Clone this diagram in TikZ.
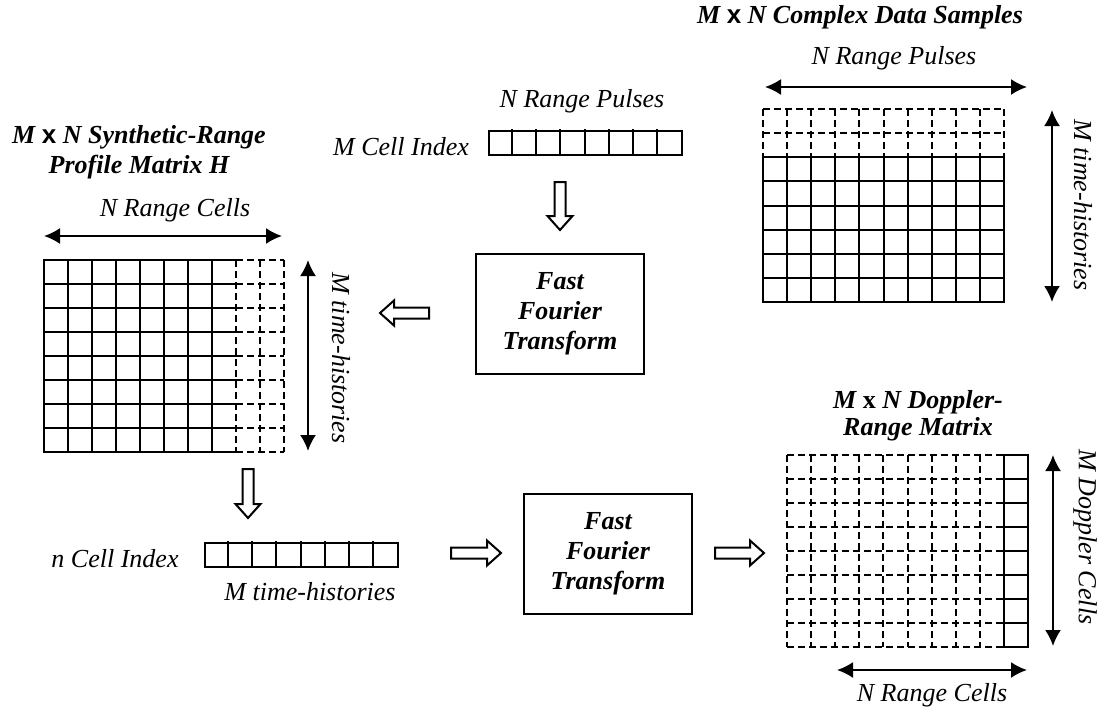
\documentclass[tikz,border=0pt]{standalone}
\usepackage{fontspec}
\setmainfont{Liberation Serif}
\newfontfamily\sansx{Liberation Sans}
\usetikzlibrary{arrows.meta,calc}
\begin{document}
\begin{tikzpicture}[x=1pt,y=-1pt,
  lbl/.style={font=\fontsize{26}{30}\selectfont\itshape, inner sep=0pt},
  ttl/.style={font=\fontsize{26}{30}\selectfont\bfseries\itshape, align=center, inner sep=0pt},
  fft/.style={draw, line width=2pt, minimum width=168pt, minimum height=120pt, align=center, inner sep=0pt,
    font=\fontsize{26}{30}\selectfont\bfseries\itshape},
  gs/.style={line width=2pt, line cap=rect},
  gd/.style={line width=2pt, dash pattern=on 7pt off 4pt},
  strip/.style={draw, line width=2pt, minimum width=193pt, minimum height=24pt, inner sep=0pt, anchor=north west},
  dbl/.style={line width=2pt, {Latex[length=16pt,width=16pt]}-{Latex[length=16pt,width=16pt]}},
  hollow/.style={draw, line width=2pt, line join=miter, fill=white}
]
\useasboundingbox (0,0) rectangle (1106,715);

% ---------- titles and labels ----------
\node[ttl] (tCDS) at (860,17) {M {\sansx\upshape x} N Complex Data Samples};
\node[lbl] (tNRP1) at (894,58) {N Range Pulses};
\node[lbl, rotate=-90] (tMTH1) at (1083,205) {M time-histories};
\node[lbl] (tNRP2) at (582,101) {N Range Pulses};
\node[lbl, anchor=base] (tMCI) at (401,155) {M Cell Index};
\node[ttl] (tSRP) at (139,152) {M {\sansx\upshape x} N Synthetic-Range\\Profile Matrix H};
\node[lbl] (tNRC1) at (175,210) {N Range Cells};
\node[lbl, rotate=-90] (tMTH2) at (341,358) {M time-histories};
\node[lbl, anchor=base] (tnCI) at (115,567) {n Cell Index};
\node[lbl, anchor=base] (tMTH3) at (310,600) {M time-histories};
\node[ttl, font=\fontsize{26}{27}\selectfont\bfseries\itshape] (tDRM) at (918,416) {M {\upshape x} N Doppler-\\Range Matrix};
\node[lbl, rotate=-90] (tMDC) at (1085,537) {M Doppler Cells};
\node[lbl] (tNRC2) at (932,695) {N Range Cells};

% ---------- FFT boxes ----------
\node[fft] (fft1) at (560,314) {Fast\\Fourier\\Transform};
\node[fft] (fft2) at (608,554) {Fast\\Fourier\\Transform};

% ---------- strips ----------
\node[strip] (topstrip) at (488,130) {};
\foreach \i in {1,...,7} \draw[gs] ({round(488+24.125*\i)},130) -- ({round(488+24.125*\i)},154);
\node[strip] (botstrip) at (204,542) {};
\foreach \i in {1,...,7} \draw[gs] ({round(204+24.125*\i)},542) -- ({round(204+24.125*\i)},566);

% ---------- left grid (synthetic-range profile) ----------
\foreach \i in {0,...,7} \draw[gs] ({44+24*\i},260) -- ({44+24*\i},452);
\foreach \j in {0,...,8} \draw[gs] (44,{260+24*\j}) -- (236,{260+24*\j});
\foreach \i in {8,9,10} \draw[gd] ({44+24*\i},260) -- ({44+24*\i},452);
\foreach \j in {0,...,8} \draw[gd] (236,{260+24*\j}) -- (284,{260+24*\j});

% ---------- top-right grid (complex data samples) ----------
\foreach \i in {0,...,10} \draw[gd] ({round(763+24.1*\i)},109) -- ({round(763+24.1*\i)},157);
\foreach \i in {0,...,10} \draw[gs] ({round(763+24.1*\i)},157) -- ({round(763+24.1*\i)},302);
\foreach \j in {0,1} \draw[gd] (763,{round(109+24.125*\j)}) -- (1004,{round(109+24.125*\j)});
\foreach \j in {2,...,8} \draw[gs] (763,{round(109+24.125*\j)}) -- (1004,{round(109+24.125*\j)});

% ---------- bottom-right grid (Doppler-range) ----------
\foreach \i in {0,...,8} \draw[gd] ({round(787+24.1*\i)},455) -- ({round(787+24.1*\i)},647);
\foreach \i in {9,10} \draw[gs] ({round(787+24.1*\i)},455) -- ({round(787+24.1*\i)},647);
\foreach \j in {0,...,8} \draw[gd] (787,{455+24*\j}) -- (1004,{455+24*\j});
\foreach \j in {0,...,8} \draw[gs] (1004,{455+24*\j}) -- (1028,{455+24*\j});

% ---------- double arrows ----------
\coordinate (a1s) at (765,87);   \coordinate (a1e) at (1027,87);
\coordinate (a2s) at (1052,110); \coordinate (a2e) at (1052,302);
\coordinate (a3s) at (44,236);   \coordinate (a3e) at (282,236);
\coordinate (a4s) at (308,260);  \coordinate (a4e) at (308,451);
\coordinate (a5s) at (1053,455); \coordinate (a5e) at (1053,646);
\coordinate (a6s) at (837,670);  \coordinate (a6e) at (1027,670);
\foreach \k in {1,...,6} \draw[dbl] (a\k s) -- (a\k e);

% ---------- hollow block arrows ----------
\coordinate (h1s) at (560,182); \coordinate (h1e) at (560,230);
\coordinate (h2s) at (429,313); \coordinate (h2e) at (380,313);
\coordinate (h3s) at (248,469); \coordinate (h3e) at (248,518);
\coordinate (h4s) at (451,553); \coordinate (h4e) at (501,553);
\coordinate (h5s) at (715,553); \coordinate (h5e) at (764,553);
\foreach \k in {1,...,5}{
  \coordinate (hb) at ($(h\k e)!14pt!(h\k s)$);
  \draw[hollow] ($(h\k s)!5.5pt!90:(h\k e)$) -- ($(hb)!5.5pt!90:(h\k e)$) -- ($(hb)!12.5pt!90:(h\k e)$)
    -- (h\k e) -- ($(hb)!12.5pt!-90:(h\k e)$) -- ($(hb)!5.5pt!-90:(h\k e)$) -- ($(h\k s)!5.5pt!-90:(h\k e)$) -- cycle;
}
\end{tikzpicture}
\end{document}
